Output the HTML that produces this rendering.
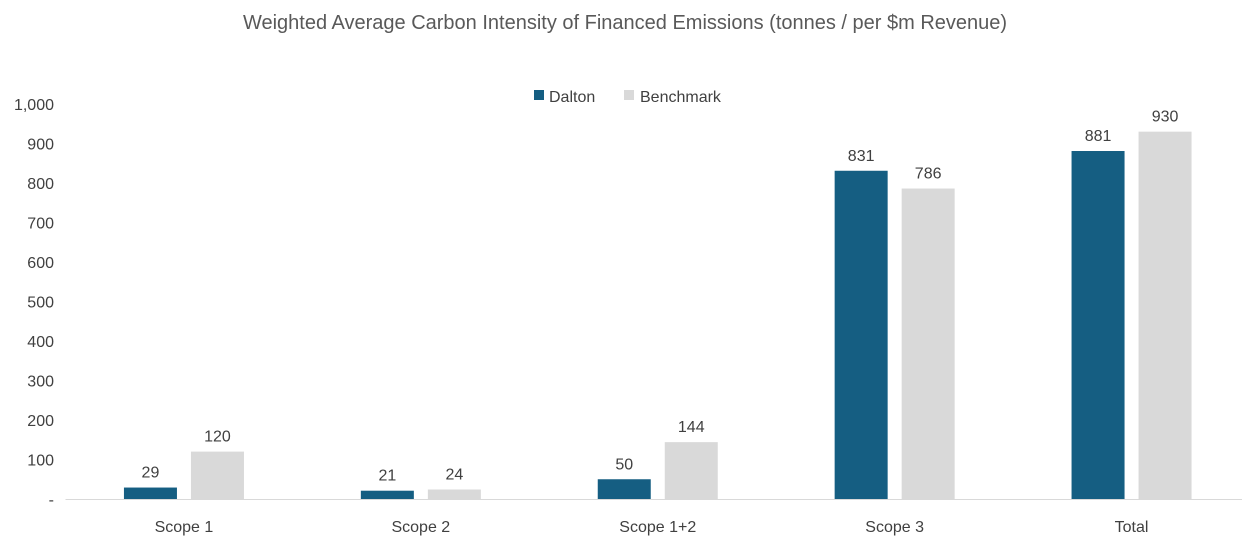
<!DOCTYPE html>
<html><head><meta charset="utf-8"><style>
body{margin:0;background:#fff;}
svg text{font-family:"Liberation Sans",Arial,sans-serif;}
</style></head><body>
<svg id="chart" width="1242" height="543" xmlns="http://www.w3.org/2000/svg">
<rect width="1242" height="543" fill="#fff"/>
<text x="625" y="29" text-anchor="middle" font-size="20" fill="#595959">Weighted Average Carbon Intensity of Financed Emissions (tonnes / per $m Revenue)</text>
<g>
<rect x="534" y="90" width="10" height="10" fill="#155E82"/>
<text x="549" y="102" font-size="16" fill="#404040">Dalton</text>
<rect x="624" y="90" width="10" height="10" fill="#D9D9D9"/>
<text x="640" y="102" font-size="16" fill="#404040">Benchmark</text>
</g>
<g id="yaxis"></g>
<g id="bars"></g>
<g id="xaxis"></g>
</svg>
<script>
const categories = ["Scope 1","Scope 2","Scope 1+2","Scope 3","Total"];
const dalton = [29,21,50,831,881];
const benchmark = [120,24,144,786,930];
const yTicks = [0,100,200,300,400,500,600,700,800,900,1000];
const yTickLabels = ["-","100","200","300","400","500","600","700","800","900","1,000"];

const NS="http://www.w3.org/2000/svg";
const plotL=65.5, plotR=1250, y0=499, y1000=104, yMax=1000;
const y = v => y0 - (v/yMax)*(y0-y1000);
const band=(plotR-plotL)/categories.length;
const cx = i => plotL + band*(i+0.5);
const barW=53, gap=14;
function mk(tag,attrs,parent,txt){const e=document.createElementNS(NS,tag);for(const k in attrs)e.setAttribute(k,attrs[k]);if(txt!==undefined)e.textContent=txt;parent.appendChild(e);return e;}
const ya=document.getElementById('yaxis'), ba=document.getElementById('bars'), xa=document.getElementById('xaxis');
yTicks.forEach((t,i)=>{
  const e=mk('text',{x:54,y:y(t)+6,'text-anchor':'end','font-size':16,fill:'#404040'},ya,yTickLabels[i]);
  
  
});
const ax=mk('line',{x1:plotL,x2:1242,y1:y0+0.5,y2:y0+0.5,stroke:'#D9D9D9','stroke-width':1},xa);


categories.forEach((c,i)=>{
  const lbl=mk('text',{x:cx(i),y:532,'text-anchor':'middle','font-size':16,fill:'#404040'},xa,c);
  
  
  const xd=cx(i)-gap/2-barW, xb=cx(i)+gap/2;
  const r1=mk('rect',{x:xd,y:y(dalton[i]),width:barW,height:y0-y(dalton[i]),fill:'#155E82'},ba);
  
  
  const r2=mk('rect',{x:xb,y:y(benchmark[i]),width:barW,height:y0-y(benchmark[i]),fill:'#D9D9D9'},ba);
  
  
  const t1=mk('text',{x:xd+barW/2,y:y(dalton[i])-10,'text-anchor':'middle','font-size':16,fill:'#404040'},ba,String(dalton[i]));
  
  
  const t2=mk('text',{x:xb+barW/2,y:y(benchmark[i])-10,'text-anchor':'middle','font-size':16,fill:'#404040'},ba,String(benchmark[i]));
  
  
});
</script>
</body></html>
